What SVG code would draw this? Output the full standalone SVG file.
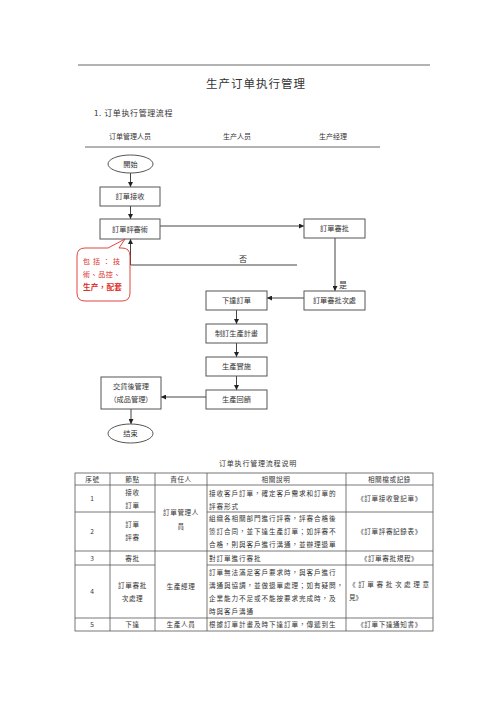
<svg xmlns="http://www.w3.org/2000/svg" width="500" height="707" viewBox="0 0 500 707">
<style>
text{font-family:"Noto Sans CJK TC","Noto Sans CJK SC",sans-serif;fill:#333}
.box{fill:#fff;stroke:#555;stroke-width:1}
.ln{fill:none;stroke:#444;stroke-width:1}
.bt{font-size:7.2px;text-anchor:middle}
.tt{font-size:6.6px;letter-spacing:0.9px}
.tc{font-size:6.6px;text-anchor:middle;letter-spacing:0.6px}
.red{fill:#e0302a}
.grid{stroke:#555;stroke-width:0.8;fill:none}
</style>
<defs>
<marker id="ah" viewBox="0 0 10 10" refX="10" refY="5" markerWidth="5" markerHeight="5" orient="auto"><path d="M0,0 L10,5 L0,10 z" fill="#222"/></marker>
</defs>
<rect width="500" height="707" fill="#fff"/>
<line x1="78" y1="65" x2="430" y2="65" stroke="#666" stroke-width="1"/>
<text x="256" y="88" font-size="11.5" text-anchor="middle" letter-spacing="1" style="font-family:'Noto Sans CJK SC',sans-serif">生产订单执行管理</text>
<text x="94" y="116" font-size="8" letter-spacing="0.6" style="font-family:'Noto Sans CJK SC',sans-serif">1. 订单执行管理流程</text>
<text x="130" y="139" font-size="7" text-anchor="middle" style="font-family:'Noto Sans CJK SC',sans-serif">订单管理人员</text>
<text x="237" y="139" font-size="7" text-anchor="middle" style="font-family:'Noto Sans CJK SC',sans-serif">生产人员</text>
<text x="333" y="139" font-size="7" text-anchor="middle" style="font-family:'Noto Sans CJK SC',sans-serif">生产经理</text>
<line x1="85" y1="147" x2="380" y2="147" stroke="#666" stroke-width="1"/>

<g id="connectors">
<line class="ln" x1="130.5" y1="173" x2="130.5" y2="187" marker-end="url(#ah)"/>
<line class="ln" x1="130.5" y1="206" x2="130.5" y2="219" marker-end="url(#ah)"/>
<line class="ln" x1="160" y1="226" x2="304" y2="226" marker-end="url(#ah)"/>
<line class="ln" x1="335" y1="238" x2="335" y2="291" marker-end="url(#ah)"/>
<line class="ln" x1="304" y1="298" x2="267" y2="298" marker-end="url(#ah)"/>
<line class="ln" x1="236.5" y1="310" x2="236.5" y2="324" marker-end="url(#ah)"/>
<line class="ln" x1="236.5" y1="343" x2="236.5" y2="357" marker-end="url(#ah)"/>
<line class="ln" x1="236.5" y1="376" x2="236.5" y2="390" marker-end="url(#ah)"/>
<line class="ln" x1="206" y1="397" x2="161" y2="397" marker-end="url(#ah)"/>
<line class="ln" x1="131" y1="409" x2="131" y2="424" marker-end="url(#ah)"/>
<polyline class="ln" points="297,265 130.5,265 130.5,239" marker-end="url(#ah)"/>
<text x="243" y="262" font-size="8" text-anchor="middle">否</text>
<text x="343" y="288" font-size="8" text-anchor="middle">是</text>
</g>

<g id="start"><ellipse class="box" cx="130.5" cy="164" rx="22.5" ry="9"/><text class="bt" x="130.5" y="166.6">開始</text></g>
<g id="receive"><rect class="box" x="100" y="187" width="60" height="19"/><text class="bt" x="130" y="199">訂單接收</text></g>
<g id="review"><rect class="box" x="100" y="219" width="60" height="20"/><text class="bt" x="130" y="231.5">訂單評審術</text></g>
<g id="approve"><rect class="box" x="304" y="219" width="61" height="19"/><text class="bt" x="334.5" y="231">訂單審批</text></g>
<g id="callout">
<path d="M85,248 L108,248 L125,239 L119,248 L122,248 Q130,248 130,256 L130,293 Q130,301 122,301 L85,301 Q77,301 77,293 L77,256 Q77,248 85,248 Z" fill="#fff" stroke="#e0302a" stroke-width="0.9"/>
<text class="red" x="83" y="263.5" font-size="7" letter-spacing="3">包括：技</text>
<text class="red" x="83" y="276.5" font-size="7" letter-spacing="0.6">術、品控、</text>
<text class="red" x="83" y="289.5" font-size="7.6" font-weight="bold" letter-spacing="0.2">生产，配套</text>
</g>
<g id="secondary"><rect class="box" x="304" y="291" width="61" height="19"/><text class="bt" x="334.5" y="303">訂單審批次處</text></g>
<g id="issue"><rect class="box" x="206" y="291" width="61" height="19"/><text class="bt" x="236.5" y="303">下達訂單</text></g>
<g id="plan"><rect class="box" x="206" y="324" width="61" height="19"/><text class="bt" x="236.5" y="336">制訂生產計畫</text></g>
<g id="implement"><rect class="box" x="206" y="357" width="61" height="19"/><text class="bt" x="236.5" y="369">生產實施</text></g>
<g id="feedback"><rect class="box" x="206" y="390" width="61" height="19"/><text class="bt" x="236.5" y="402">生產回饋</text></g>
<g id="delivery"><rect class="box" x="101" y="377" width="60" height="32"/><text class="bt" x="131" y="389">交貨後管理</text><text class="bt" x="131" y="402">（成品管理）</text></g>
<g id="end"><ellipse class="box" cx="130.5" cy="433.5" rx="22.5" ry="9.5"/><text class="bt" x="130.5" y="436">结束</text></g>

<g id="table">
<text x="258" y="466" font-size="7" text-anchor="middle" letter-spacing="0.8" style="font-family:'Noto Sans CJK SC',sans-serif">订单执行管理流程说明</text>
<rect class="grid" x="75" y="473" width="358" height="158"/>
<line class="grid" x1="75" y1="485" x2="433" y2="485"/>
<line class="grid" x1="75" y1="512" x2="155" y2="512"/>
<line class="grid" x1="207" y1="512" x2="433" y2="512"/>
<line class="grid" x1="75" y1="551" x2="433" y2="551"/>
<line class="grid" x1="75" y1="565" x2="155" y2="565"/>
<line class="grid" x1="207" y1="565" x2="433" y2="565"/>
<line class="grid" x1="75" y1="618" x2="433" y2="618"/>
<line class="grid" x1="110" y1="473" x2="110" y2="631"/>
<line class="grid" x1="155" y1="473" x2="155" y2="631"/>
<line class="grid" x1="207" y1="473" x2="207" y2="631"/>
<line class="grid" x1="346" y1="473" x2="346" y2="631"/>

<text class="tc" x="92.5" y="481.5">序號</text>
<text class="tc" x="132.5" y="481.5">節點</text>
<text class="tc" x="181" y="481.5">責任人</text>
<text class="tc" x="276" y="481.5">相關說明</text>
<text class="tc" x="389.5" y="481.5">相關檔或記錄</text>

<text class="tc" x="92.5" y="501">1</text>
<text class="tc" x="132.5" y="495">接收</text>
<text class="tc" x="132.5" y="508">訂單</text>
<text class="tc" x="181" y="515">訂單管理人</text>
<text class="tc" x="181" y="529">員</text>
<text class="tt" x="209" y="495.5">接收客戶訂單，確定客戶需求和訂單的</text>
<text class="tt" x="209" y="508.5">評審形式</text>
<text class="tc" x="389.5" y="501">《訂單接收登記單》</text>

<text class="tc" x="92.5" y="534">2</text>
<text class="tc" x="132.5" y="527">訂單</text>
<text class="tc" x="132.5" y="540">評審</text>
<text class="tt" x="209" y="520.5">組織各相關部門進行評審，評審合格後</text>
<text class="tt" x="209" y="533.5">簽訂合同，並下達生產訂單；如評審不</text>
<text class="tt" x="209" y="547">合格，則與客戶進行溝通，並辦理退單</text>
<text class="tc" x="389.5" y="534">《訂單評審記錄表》</text>

<text class="tc" x="92.5" y="561">3</text>
<text class="tc" x="132.5" y="561">審批</text>
<text class="tc" x="181" y="589">生產經理</text>
<text class="tt" x="209" y="561">對訂單進行審批</text>
<text class="tc" x="389.5" y="561">《訂單審批規程》</text>

<text class="tc" x="92.5" y="594">4</text>
<text class="tc" x="132.5" y="588">訂單審批</text>
<text class="tc" x="132.5" y="601">次處理</text>
<text class="tt" x="209" y="574.5">訂單無法滿足客戶要求時，與客戶進行</text>
<text class="tt" x="209" y="587.5">溝通與協調，並做退單處理；如有疑問，</text>
<text class="tt" x="209" y="600.5">企業能力不足或不能按要求完成時，及</text>
<text class="tt" x="209" y="613.5">時與客戶溝通</text>
<text x="349" y="587" font-size="6.6" textLength="80" lengthAdjust="spacing">《訂單審批次處理意</text>
<text x="349" y="600" font-size="6.6">見》</text>

<text class="tc" x="92.5" y="627">5</text>
<text class="tc" x="132.5" y="627">下達</text>
<text class="tc" x="181" y="627">生產人員</text>
<text class="tt" x="209" y="627">根據訂單計畫及時下達訂單，傳遞到生</text>
<text class="tc" x="389.5" y="627">《訂單下達通知書》</text>
</g>
</svg>
